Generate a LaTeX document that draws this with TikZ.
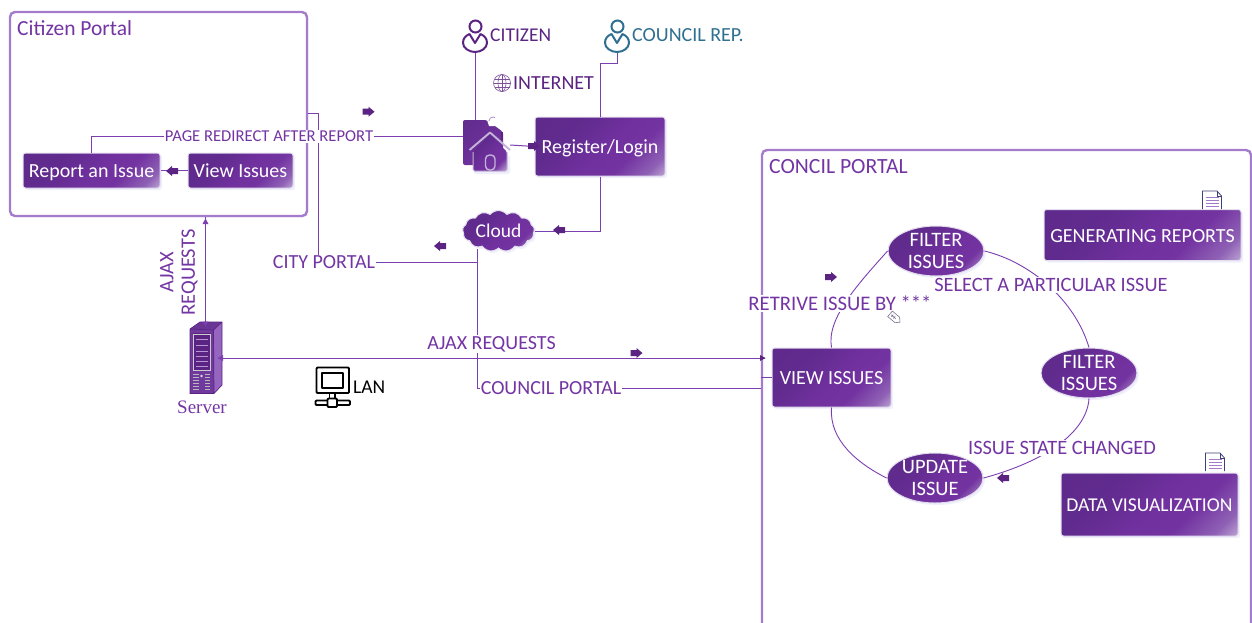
\documentclass[tikz,border=0pt]{standalone}
\usepackage{fontspec}
\setmainfont{Carlito}
\newfontfamily\serverfont{Liberation Serif}
\usetikzlibrary{shapes.geometric,shapes.symbols,shadows,calc}
\definecolor{ptext}{HTML}{7335A3}
\definecolor{pline}{HTML}{7B3FB0}
\definecolor{pframe}{HTML}{A57CCB}
\definecolor{pdark}{HTML}{5B2483}
\definecolor{pedge}{HTML}{E3DEEE}
\definecolor{hedge}{HTML}{C4B4D8}
\definecolor{teal}{HTML}{2F6F8F}
\pgfdeclarehorizontalshading{btnshade}{100bp}{rgb(0bp)=(.36,.16,.53); rgb(35bp)=(.38,.17,.56); rgb(52bp)=(.44,.19,.62); rgb(65bp)=(.45,.20,.63); rgb(78bp)=(.56,.38,.71); rgb(87bp)=(.78,.70,.85); rgb(100bp)=(.78,.70,.85)}
\pgfdeclarehorizontalshading{ellshade}{100bp}{rgb(0bp)=(.36,.16,.53); rgb(35bp)=(.38,.17,.56); rgb(55bp)=(.44,.19,.62); rgb(70bp)=(.45,.20,.63); rgb(82bp)=(.68,.55,.78); rgb(100bp)=(.80,.72,.86)}
\pgfdeclarehorizontalshading{docshade}{100bp}{rgb(0bp)=(.36,.16,.53); rgb(50bp)=(.42,.19,.60); rgb(100bp)=(.45,.20,.63)}
\tikzset{
  x=1pt,y=-1pt,
  softshadow/.style={drop shadow={shadow xshift=2pt,shadow yshift=-2pt,fill=black!18!blue!10,opacity=.55}},
  frame/.style={draw=pframe,line width=2.4pt,rounded corners=5pt,inner sep=0pt,fill=white,drop shadow={shadow xshift=1.5pt,shadow yshift=-1.5pt,fill=black!18!blue!10,opacity=.5}},
  btn/.style={rectangle,rounded corners=2.5pt,draw=pedge,line width=1pt,shade,shading=btnshade,shading angle=-45,softshadow,text=white,inner sep=0pt,text height=15pt,text depth=1pt,font=\fontsize{20}{22}\selectfont},
  oval/.style={ellipse,draw=pedge,line width=1pt,shade,shading=ellshade,shading angle=-45,softshadow,text=white,inner sep=0pt,align=center,minimum width=96pt,minimum height=50pt,font=\fontsize{20.5}{22}\selectfont},
  conn/.style={draw=pline,line width=1pt},
  flow/.style={draw=pline,line width=.9pt},
  lab/.style={fill=white,text=ptext,inner sep=1pt,font=\fontsize{20}{22}\selectfont},
  plain/.style={text=ptext,inner sep=0pt,font=\fontsize{20}{22}\selectfont},
  person/.pic={
    \draw[line width=2pt,pic actions] (0.5,-8.5) circle (6);
    \draw[line width=2pt,pic actions,line join=round] (-5.5,-1) .. controls (-10,1) and (-12,4) .. (-12,8) .. controls (-12,13) and (-6,17) .. (0,17) .. controls (6,17) and (12,13) .. (12,8) .. controls (12,4) and (10,1) .. (5.5,-1) -- (0,8) -- cycle;
  },
  fatarrow/.pic={
    \fill[pdark] (-6,-3) -- (0,-3) -- (0,-5) -- (6,0) -- (0,5) -- (0,3) -- (-6,3) -- cycle;
  },
  docicon/.pic={
    \draw[black!55!blue!50!gray,line width=.8pt,fill=white] (-9.5,9) -- (-9.5,-9) -- (5,-9) -- (9.5,-4) -- (9.5,9);
    \draw[black!55!blue!50!gray,line width=.6pt] (5,-9) -- (5,-4) -- (9.5,-4);
    \foreach \yy in {-3,0,3,6} \draw[pline!70,line width=.6pt] (-6.5,\yy) -- (6.5,\yy);
  },
}
\begin{document}
\begin{tikzpicture}
\useasboundingbox (0,0) rectangle (1252,622);
\clip (0,0) rectangle (1252,622);

% containers
\node[frame,minimum width=297pt,minimum height=204pt] (citizenportal) at (158.5,114) {};
\node[frame,minimum width=489pt,minimum height=500pt] (councilportal) at (1006.5,400) {};

% named nodes
\node[btn,minimum width=137pt,minimum height=35pt] (report) at (91.5,170.5) {Report an Issue};
\node[btn,minimum width=105pt,minimum height=35pt] (view) at (240.5,170.5) {View Issues};
\node[btn,minimum width=130pt,minimum height=59pt] (register) at (600,146.5) {Register/Login};
\node[btn,minimum width=119pt,minimum height=59pt] (viewissues) at (831.5,377.5) {VIEW ISSUES};
\node[btn,minimum width=197pt,minimum height=51pt] (genreports) at (1142.5,235) {GENERATING REPORTS};
\node[btn,minimum width=177pt,minimum height=63pt,font=\fontsize{19.6}{22}\selectfont] (dataviz) at (1149.5,504.5) {DATA VISUALIZATION};
\node[oval] (filterone) at (936,251) {FILTER\\ISSUES};
\node[oval] (filtertwo) at (1089,373) {FILTER\\ISSUES};
\node[oval] (update) at (935,478) {UPDATE\\ISSUE};
\node[cloud,cloud puffs=13,cloud puff arc=100,aspect=1.9,draw=pedge,line width=1pt,shade,shading=ellshade,shading angle=-45,softshadow,text=white,inner sep=0pt,minimum width=72pt,minimum height=41pt,font=\fontsize{19.5}{22}\selectfont] (cloud) at (498.5,231) {Cloud};

\node[minimum width=47pt,minimum height=52pt,inner sep=0pt] (home) at (486.5,146) {};
\node[minimum width=24pt,minimum height=34pt,inner sep=0pt] (citizen) at (475,35) {};
\node[minimum width=24pt,minimum height=34pt,inner sep=0pt] (councilrep) at (617,35) {};
\node[minimum width=33pt,minimum height=72pt,inner sep=0pt] (server) at (205.5,358) {};

% connectors
\draw[conn] (citizen.south) -- (citizen.south |- home.north);
\draw[conn] (councilrep.south) -- ++(0,11) -| (register.north);
\draw[conn] (report.north) |- (home.west |- 0,136);
\draw[conn] (home.east |- 0,145) -- (register.west);
\draw[conn] (view.west) -- (report.east);
\draw[conn] (register.south) |- (cloud.east);
\coordinate (cloudfoot) at (477,249);
\draw[conn] (citizenportal.east |- 0,113) -| (318,262) -| (cloudfoot);
\draw[conn] (cloudfoot) |- (councilportal.west |- 0,388);
\draw[conn] (server.east |- 0,358) -- (765,358);
\draw[conn] (server.north) -- (citizenportal.south -| server.north);
\draw[conn] (councilportal.west |- viewissues.west) -- (viewissues.west);
\draw[flow] (viewissues.north) .. controls (826,318) and (860,282) .. (filterone.west);
\draw[flow] (filterone.east) .. controls (1030,262) and (1075,300) .. (filtertwo.north);
\draw[flow] (filtertwo.south) .. controls (1087,430) and (1050,460) .. (update.east);
\draw[flow] (update.west) .. controls (857,463) and (829,440) .. (viewissues.south);

% block arrows
\pic at (368.5,111.7) {fatarrow};
\pic[rotate=180] at (172,171) {fatarrow};
\pic at (534,146) {fatarrow};
\pic[rotate=180] at (559,230) {fatarrow};
\pic[rotate=180] at (440,246) {fatarrow};
\pic at (636.5,353) {fatarrow};
\pic at (831,277) {fatarrow};
\pic[rotate=180] at (1003,478) {fatarrow};

% labels on connectors
\node[lab,font=\fontsize{16.6}{20}\selectfont] (l1) at (269,136.5) {PAGE REDIRECT AFTER REPORT};
\node[lab] (l2) at (324,262.5) {CITY PORTAL};
\node[lab] (l3) at (491.5,344) {AJAX REQUESTS};
\node[lab] (l4) at (551,388.5) {COUNCIL PORTAL};
\node[lab,font=\fontsize{20.7}{22}\selectfont] (l5) at (840,303.5) {RETRIVE ISSUE BY ***};
\node[lab,font=\fontsize{20.4}{22}\selectfont] (l6) at (1051,285) {SELECT A PARTICULAR ISSUE};
\node[lab,font=\fontsize{20.4}{22}\selectfont] (l7) at (1062,448) {ISSUE STATE CHANGED};
\node[lab,fill=none,rotate=90,align=center,font=\fontsize{20.5}{21.5}\selectfont] (l8) at (179,272.5) {AJAX\\REQUESTS};

% titles
\node[plain,anchor=west,font=\fontsize{21.5}{22}\selectfont] (t1) at (17,28) {Citizen Portal};
\node[plain,anchor=west,font=\fontsize{21.7}{22}\selectfont] (t2) at (769,166.5) {CONCIL PORTAL};
\node[plain,anchor=west,text=pdark,font=\fontsize{19.5}{22}\selectfont] (t3) at (490,35.5) {CITIZEN};
\node[plain,anchor=west,text=teal] (t4) at (632,35.5) {COUNCIL REP.};
\node[plain,anchor=west,text=pdark] (t5) at (513,83.5) {INTERNET};
\node[plain,anchor=west,text=black,font=\fontsize{19.5}{22}\selectfont] (t6) at (353,387.5) {LAN};
\node[text=ptext,inner sep=0pt,font=\serverfont\fontsize{19}{20}\selectfont] (t7) at (202,407) {Server};

% person icons
\pic[draw=pdark] at (475,35) {person};
\pic[draw=teal] at (617,35) {person};

% globe
\begin{scope}[shift={(502,83)},draw=pdark!80,line width=.6pt]
\draw (0,0) circle (8.5);
\draw (0,0) ellipse (4 and 8.5);
\draw (0,-8.5) -- (0,8.5);
\draw (-8.5,0) -- (8.5,0);
\draw (-7.5,-4) -- (7.5,-4);
\draw (-7.5,4) -- (7.5,4);
\end{scope}

% home icon
\shade[shading=docshade,shading angle=-45] (463,124) [rounded corners=2pt] -- (463,120) -- (487,120) -- (503,132) -- (503,165) -- (463,165) -- cycle;
\fill[white] (487,120) -- (489,126) -- (497,126) -- (494,120) -- cycle;
\draw[pline!60,line width=.8pt] (489,121) arc (180:300:4);
\fill[pdark] (501,132) rectangle (503,140);
\fill[black!18!blue!10,opacity=.6,rounded corners=2pt] (474,155) rectangle (510,174);
\shade[shading=ellshade,shading angle=-45,rounded corners=1.5pt] (473,152) -- (490,134) -- (507,152) -- (507,171) -- (473,171) -- cycle;
\draw[hedge,line width=1pt,rounded corners=1.5pt] (473,152) -- (473,171) -- (507,171) -- (507,152);
\draw[hedge,line width=1.9pt,line join=round] (469.5,150) -- (490,132.5) -- (510,150);
\draw[hedge,line width=1.4pt,rounded corners=4pt] (485.5,170) -- (485.5,155) -- (495,155) -- (495,170) -- cycle;

% document icons
\pic at (1212,200) {docicon};
\pic at (1215,462) {docicon};

% tag icon
\begin{scope}[shift={(895,318)},rotate=-40,draw=gray!75!pline,line width=.6pt]
\draw (-6.5,-3.6) -- (3,-3.6) -- (6.5,0) -- (3,3.6) -- (-6.5,3.6) -- cycle;
\draw (-3.5,-1.5) -- (-3.5,1.5) (-1,-1.5) -- (-1,1.5) (-5,0) -- (1,0);
\end{scope}

% server icon
\fill[pline!85!black] (190,329) -- (200,322) -- (222,322) -- (213.5,330) -- cycle;
\fill[pline!80!white] (213.5,330) -- (222,322) -- (222,385) -- (214,393.5) -- cycle;
\fill[pline!90!black] (190,329) rectangle (214,393.5);
\draw[pdark,line width=.7pt] (190,329) -- (200,322) -- (222,322) -- (222,385) -- (214,393.5) -- (190,393.5) -- cycle (190,329) -- (213.5,330) -- (214,393.5) (213.5,330) -- (222,322);
\fill[pdark] (193,333) rectangle (211,371);
\draw[gray!40,line width=.7pt] (193.5,334) rectangle (210,370);
\foreach \yy in {339,345,351,356,361,366} \draw[pline!55!white,line width=.9pt] (195.5,\yy) -- (208,\yy);
\foreach \yy in {374,377,380,383,386,389}{
  \draw[gray!55!white,line width=.7pt] (193,\yy) -- (199,\yy);
  \draw[gray!55!white,line width=.7pt] (205,\yy) -- (210,\yy);
}
\fill[gray!30] (201.5,376) circle (1.3);

% connector ends on the server and the portals
\draw[conn] (218,358) -- (server.east |- 0,358);
\fill[pline] (205.5,218.5) -- (202.5,224) -- (208.5,224) -- cycle;
\fill[pline] (205.5,326) -- (202.5,321.5) -- (208.5,321.5) -- cycle;
\fill[pline] (218,358) -- (223,355) -- (223,361) -- cycle;
\fill[pdark] (765.5,358) -- (760,355) -- (760,361) -- cycle;

% LAN icon
\begin{scope}[black,line width=1.9pt,line join=round]
\draw[rounded corners=1pt] (316.5,367.5) rectangle (349,393);
\draw (322,373) rectangle (343,388);
\draw (329.5,393) -- (329.5,399) (335,393) -- (335,399);
\draw[rounded corners=1pt] (315.5,400.5) rectangle (350,405);
\draw[fill=white,rounded corners=1pt] (327.5,398.5) rectangle (337,407);
\end{scope}
\end{tikzpicture}
\end{document}
